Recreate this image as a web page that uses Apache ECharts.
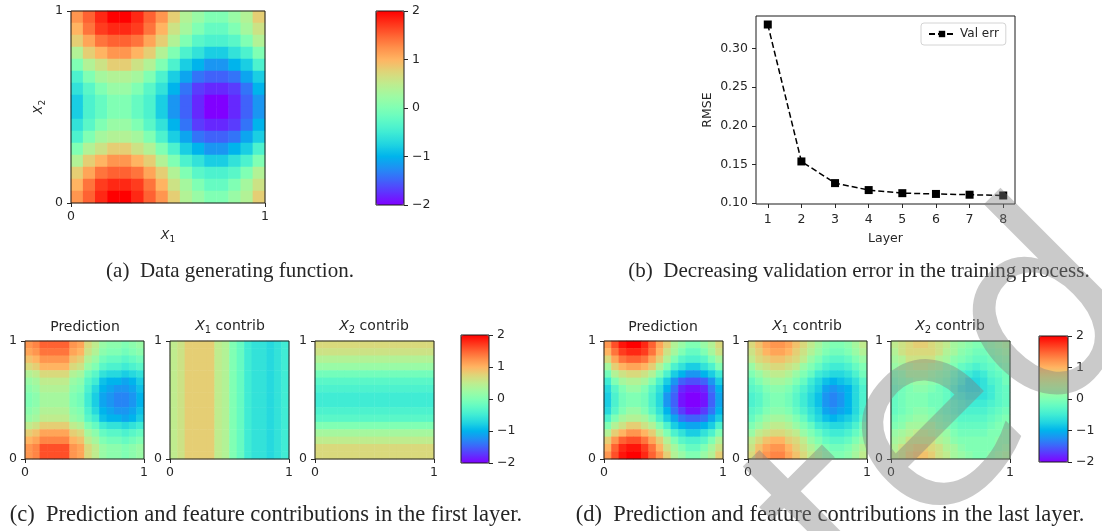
<!DOCTYPE html>
<html>
<head>
<meta charset="utf-8">
<script src="https://cdn.jsdelivr.net/npm/echarts@6/dist/echarts.min.js"></script>
<style>
  html, body { margin: 0; background: #fff; }
  #main { width: 1102px; height: 531px; }
</style>
</head>
<body>
<div id="main"></div>
<script>
// ---- data ----
const layers = [1, 2, 3, 4, 5, 6, 7, 8];
const valErr = [0.331, 0.154, 0.126, 0.117, 0.113, 0.112, 0.111, 0.110];
const rmseTicks = [0.10, 0.15, 0.20, 0.25, 0.30];
const colorbarTicks = [-2, -1, 0, 1, 2];

// heatmaps: 16 x 16 cells, rows listed top (X2 = 1) to bottom (X2 = 0), columns X1 = 0 .. 1
const dataFunction = [
  [1.2, 1.5, 1.8, 2.0, 2.0, 1.8, 1.5, 1.2, 0.8, 0.4, 0.2, 0.0, 0.0, 0.2, 0.4, 0.8],
  [1.0, 1.4, 1.7, 1.8, 1.8, 1.7, 1.4, 1.0, 0.6, 0.3, 0.0, -0.2, -0.2, 0.0, 0.3, 0.6],
  [0.8, 1.1, 1.4, 1.5, 1.5, 1.4, 1.1, 0.8, 0.4, 0.0, -0.3, -0.4, -0.4, -0.3, 0.0, 0.4],
  [0.4, 0.8, 1.0, 1.2, 1.2, 1.0, 0.8, 0.4, 0.0, -0.4, -0.6, -0.8, -0.8, -0.6, -0.4, 0.0],
  [0.0, 0.4, 0.6, 0.8, 0.8, 0.6, 0.4, 0.0, -0.4, -0.8, -1.0, -1.2, -1.2, -1.0, -0.8, -0.4],
  [-0.4, 0.0, 0.3, 0.4, 0.4, 0.3, 0.0, -0.4, -0.8, -1.1, -1.4, -1.5, -1.5, -1.4, -1.1, -0.8],
  [-0.6, -0.3, 0.0, 0.2, 0.2, 0.0, -0.3, -0.6, -1.0, -1.4, -1.7, -1.8, -1.8, -1.7, -1.4, -1.0],
  [-0.8, -0.4, -0.2, 0.0, 0.0, -0.2, -0.4, -0.8, -1.2, -1.5, -1.8, -2.0, -2.0, -1.8, -1.5, -1.2],
  [-0.8, -0.4, -0.2, 0.0, 0.0, -0.2, -0.4, -0.8, -1.2, -1.5, -1.8, -2.0, -2.0, -1.8, -1.5, -1.2],
  [-0.6, -0.3, 0.0, 0.2, 0.2, 0.0, -0.3, -0.6, -1.0, -1.4, -1.7, -1.8, -1.8, -1.7, -1.4, -1.0],
  [-0.4, 0.0, 0.3, 0.4, 0.4, 0.3, 0.0, -0.4, -0.8, -1.1, -1.4, -1.5, -1.5, -1.4, -1.1, -0.8],
  [0.0, 0.4, 0.6, 0.8, 0.8, 0.6, 0.4, 0.0, -0.4, -0.8, -1.0, -1.2, -1.2, -1.0, -0.8, -0.4],
  [0.4, 0.8, 1.0, 1.2, 1.2, 1.0, 0.8, 0.4, 0.0, -0.4, -0.6, -0.8, -0.8, -0.6, -0.4, 0.0],
  [0.8, 1.1, 1.4, 1.5, 1.5, 1.4, 1.1, 0.8, 0.4, 0.0, -0.3, -0.4, -0.4, -0.3, 0.0, 0.4],
  [1.0, 1.4, 1.7, 1.8, 1.8, 1.7, 1.4, 1.0, 0.6, 0.3, 0.0, -0.2, -0.2, 0.0, 0.3, 0.6],
  [1.2, 1.5, 1.8, 2.0, 2.0, 1.8, 1.5, 1.2, 0.8, 0.4, 0.2, 0.0, 0.0, 0.2, 0.4, 0.8]
];

const firstPrediction = [
  [1.2, 1.3, 1.5, 1.5, 1.5, 1.5, 1.2, 1.1, 0.7, 0.5, 0.2, 0.1, 0.1, 0.0, 0.1, 0.2],
  [1.1, 1.2, 1.4, 1.4, 1.4, 1.4, 1.1, 1.0, 0.6, 0.4, 0.1, 0.0, 0.0, -0.1, 0.0, 0.1],
  [0.9, 1.0, 1.2, 1.2, 1.2, 1.2, 0.9, 0.8, 0.4, 0.2, -0.1, -0.2, -0.2, -0.3, -0.2, -0.1],
  [0.7, 0.8, 1.0, 1.0, 1.0, 1.0, 0.7, 0.6, 0.2, 0.0, -0.3, -0.4, -0.4, -0.5, -0.4, -0.3],
  [0.4, 0.5, 0.7, 0.7, 0.7, 0.7, 0.4, 0.3, -0.1, -0.3, -0.6, -0.7, -0.7, -0.8, -0.7, -0.6],
  [0.2, 0.3, 0.5, 0.5, 0.5, 0.5, 0.2, 0.1, -0.3, -0.5, -0.9, -1.0, -1.0, -1.1, -1.0, -0.8],
  [0.1, 0.2, 0.4, 0.4, 0.4, 0.4, 0.1, 0.0, -0.4, -0.7, -1.0, -1.1, -1.2, -1.2, -1.1, -0.9],
  [0.0, 0.1, 0.3, 0.3, 0.3, 0.3, 0.0, -0.1, -0.5, -0.8, -1.1, -1.2, -1.3, -1.3, -1.2, -1.0],
  [0.0, 0.1, 0.3, 0.3, 0.3, 0.3, 0.0, -0.1, -0.5, -0.8, -1.1, -1.2, -1.3, -1.3, -1.2, -1.0],
  [0.1, 0.2, 0.4, 0.4, 0.4, 0.4, 0.1, 0.0, -0.4, -0.7, -1.0, -1.1, -1.2, -1.2, -1.1, -0.9],
  [0.2, 0.3, 0.5, 0.5, 0.5, 0.5, 0.2, 0.1, -0.3, -0.5, -0.9, -1.0, -1.0, -1.1, -1.0, -0.8],
  [0.5, 0.6, 0.8, 0.8, 0.8, 0.8, 0.5, 0.4, 0.0, -0.2, -0.5, -0.6, -0.6, -0.7, -0.6, -0.5],
  [0.8, 0.9, 1.1, 1.1, 1.1, 1.1, 0.8, 0.7, 0.3, 0.1, -0.2, -0.3, -0.3, -0.4, -0.3, -0.2],
  [1.0, 1.1, 1.3, 1.3, 1.3, 1.3, 1.0, 0.9, 0.5, 0.3, 0.0, -0.1, -0.1, -0.2, -0.1, 0.0],
  [1.2, 1.3, 1.6, 1.6, 1.6, 1.6, 1.2, 1.1, 0.7, 0.5, 0.2, 0.1, 0.1, 0.0, 0.1, 0.2],
  [1.2, 1.3, 1.6, 1.6, 1.6, 1.6, 1.2, 1.1, 0.7, 0.5, 0.2, 0.1, 0.1, 0.0, 0.1, 0.2]
];
// first layer contributions are flat along the other feature
const firstX1Contrib = [0.5, 0.6, 0.8, 0.8, 0.8, 0.8, 0.5, 0.4, 0.0, -0.2, -0.5, -0.6, -0.6, -0.7, -0.6, -0.5]; // X1 = 0 .. 1
const firstX2Contrib = [0.7, 0.6, 0.4, 0.2, -0.1, -0.3, -0.4, -0.5, -0.5, -0.4, -0.3, 0.0, 0.3, 0.5, 0.7, 0.7]; // X2 = 1 .. 0

const lastPrediction = [
  [1.2, 1.6, 1.9, 2.0, 2.0, 1.8, 1.5, 1.1, 0.8, 0.4, 0.2, 0.0, 0.0, 0.2, 0.4, 0.7],
  [1.0, 1.4, 1.7, 1.8, 1.8, 1.7, 1.4, 1.0, 0.6, 0.3, 0.0, -0.2, -0.2, 0.0, 0.3, 0.6],
  [0.7, 1.1, 1.4, 1.5, 1.5, 1.4, 1.1, 0.8, 0.4, 0.0, -0.3, -0.4, -0.4, -0.3, 0.0, 0.3],
  [0.3, 0.8, 1.0, 1.1, 1.1, 1.0, 0.8, 0.4, 0.0, -0.4, -0.6, -0.8, -0.8, -0.6, -0.4, 0.0],
  [-0.1, 0.4, 0.6, 0.7, 0.7, 0.6, 0.4, 0.0, -0.4, -0.8, -1.0, -1.2, -1.2, -1.0, -0.8, -0.5],
  [-0.5, 0.0, 0.3, 0.4, 0.4, 0.3, 0.0, -0.4, -0.8, -1.2, -1.5, -1.6, -1.6, -1.5, -1.2, -0.8],
  [-0.7, -0.3, 0.0, 0.2, 0.2, 0.0, -0.3, -0.6, -1.0, -1.4, -1.8, -1.9, -1.9, -1.8, -1.4, -1.0],
  [-0.8, -0.4, -0.1, 0.0, 0.0, -0.1, -0.4, -0.7, -1.2, -1.5, -1.9, -2.0, -2.0, -1.9, -1.5, -1.1],
  [-0.8, -0.4, -0.1, 0.0, 0.0, -0.1, -0.4, -0.7, -1.2, -1.5, -1.9, -2.0, -2.0, -1.9, -1.5, -1.1],
  [-0.7, -0.3, 0.0, 0.2, 0.2, 0.0, -0.3, -0.6, -1.0, -1.4, -1.7, -1.9, -1.9, -1.7, -1.4, -1.0],
  [-0.4, 0.0, 0.3, 0.4, 0.4, 0.3, 0.0, -0.4, -0.8, -1.1, -1.4, -1.5, -1.5, -1.4, -1.1, -0.8],
  [0.0, 0.4, 0.6, 0.8, 0.8, 0.6, 0.4, 0.0, -0.4, -0.8, -1.0, -1.1, -1.1, -1.0, -0.8, -0.4],
  [0.4, 0.8, 1.0, 1.2, 1.2, 1.0, 0.8, 0.4, 0.0, -0.4, -0.6, -0.8, -0.8, -0.6, -0.4, 0.0],
  [0.8, 1.2, 1.5, 1.6, 1.6, 1.4, 1.1, 0.8, 0.4, 0.0, -0.3, -0.4, -0.4, -0.3, 0.0, 0.4],
  [1.0, 1.5, 1.8, 1.9, 1.9, 1.7, 1.4, 1.0, 0.6, 0.3, 0.0, -0.2, -0.2, 0.0, 0.3, 0.6],
  [1.2, 1.6, 1.9, 2.0, 2.0, 1.8, 1.5, 1.2, 0.8, 0.4, 0.2, 0.0, 0.0, 0.2, 0.4, 0.8]
];

const lastX1Contrib = [
  [0.7, 0.9, 1.1, 1.2, 1.2, 1.1, 0.9, 0.7, 0.5, 0.3, 0.1, 0.0, 0.0, 0.1, 0.3, 0.5],
  [0.6, 0.8, 1.0, 1.1, 1.1, 1.0, 0.8, 0.6, 0.4, 0.2, 0.0, -0.1, -0.1, 0.0, 0.2, 0.4],
  [0.5, 0.7, 0.8, 0.9, 0.9, 0.8, 0.7, 0.5, 0.2, 0.0, -0.2, -0.3, -0.3, -0.2, 0.0, 0.2],
  [0.2, 0.5, 0.6, 0.7, 0.7, 0.6, 0.5, 0.2, 0.0, -0.2, -0.4, -0.5, -0.5, -0.4, -0.2, 0.0],
  [0.0, 0.2, 0.4, 0.5, 0.5, 0.4, 0.2, 0.0, -0.2, -0.5, -0.6, -0.7, -0.7, -0.6, -0.4, -0.1],
  [-0.2, 0.0, 0.2, 0.3, 0.3, 0.2, 0.0, -0.2, -0.5, -0.7, -0.9, -1.0, -0.9, -0.8, -0.6, -0.3],
  [-0.3, -0.2, 0.0, 0.1, 0.1, 0.0, -0.2, -0.4, -0.6, -0.8, -1.1, -1.2, -1.1, -1.0, -0.7, -0.4],
  [-0.4, -0.3, -0.1, 0.0, 0.0, -0.1, -0.3, -0.5, -0.7, -0.9, -1.2, -1.3, -1.2, -1.0, -0.7, -0.4],
  [-0.4, -0.3, -0.1, 0.0, 0.0, -0.1, -0.3, -0.5, -0.7, -0.9, -1.2, -1.3, -1.2, -1.0, -0.7, -0.4],
  [-0.3, -0.2, 0.0, 0.1, 0.1, 0.0, -0.2, -0.4, -0.6, -0.8, -1.1, -1.2, -1.1, -1.0, -0.7, -0.4],
  [-0.2, 0.0, 0.2, 0.3, 0.3, 0.2, 0.0, -0.2, -0.5, -0.7, -0.9, -1.0, -0.9, -0.8, -0.6, -0.3],
  [0.0, 0.2, 0.4, 0.5, 0.5, 0.4, 0.2, 0.0, -0.2, -0.5, -0.6, -0.7, -0.7, -0.6, -0.4, -0.1],
  [0.2, 0.5, 0.6, 0.7, 0.7, 0.6, 0.5, 0.2, 0.0, -0.2, -0.4, -0.5, -0.5, -0.4, -0.2, 0.0],
  [0.5, 0.7, 0.9, 1.0, 1.0, 0.8, 0.7, 0.5, 0.2, 0.0, -0.2, -0.3, -0.3, -0.2, 0.0, 0.2],
  [0.6, 0.9, 1.1, 1.2, 1.2, 1.0, 0.8, 0.6, 0.4, 0.2, 0.0, -0.1, -0.1, 0.0, 0.2, 0.4],
  [0.7, 1.0, 1.2, 1.3, 1.3, 1.1, 0.9, 0.7, 0.5, 0.3, 0.1, 0.0, 0.0, 0.1, 0.3, 0.5]
];

const lastX2Contrib = [
  [0.5, 0.6, 0.7, 0.8, 0.8, 0.7, 0.6, 0.5, 0.3, 0.2, 0.1, 0.0, 0.0, 0.1, 0.2, 0.3],
  [0.4, 0.6, 0.7, 0.7, 0.7, 0.7, 0.6, 0.4, 0.3, 0.1, 0.0, -0.1, -0.1, 0.0, 0.1, 0.2],
  [0.3, 0.4, 0.6, 0.6, 0.6, 0.6, 0.4, 0.3, 0.1, 0.0, -0.1, -0.2, -0.2, -0.1, 0.0, 0.1],
  [0.2, 0.3, 0.4, 0.5, 0.5, 0.4, 0.3, 0.1, 0.0, -0.2, -0.3, -0.4, -0.3, -0.2, -0.1, 0.0],
  [0.0, 0.1, 0.3, 0.3, 0.3, 0.2, 0.1, 0.0, -0.2, -0.4, -0.5, -0.6, -0.5, -0.3, -0.2, -0.1],
  [-0.1, 0.0, 0.1, 0.2, 0.2, 0.1, 0.0, -0.1, -0.3, -0.5, -0.7, -0.7, -0.6, -0.4, -0.3, -0.1],
  [-0.2, -0.1, 0.0, 0.1, 0.1, 0.0, -0.1, -0.2, -0.4, -0.6, -0.7, -0.7, -0.6, -0.5, -0.3, -0.2],
  [-0.2, -0.1, 0.0, 0.0, 0.0, -0.1, -0.1, -0.2, -0.4, -0.5, -0.6, -0.6, -0.6, -0.5, -0.3, -0.2],
  [-0.2, -0.1, 0.0, 0.0, 0.0, -0.1, -0.1, -0.2, -0.3, -0.4, -0.5, -0.5, -0.5, -0.4, -0.3, -0.2],
  [-0.2, -0.1, 0.0, 0.1, 0.1, 0.0, -0.1, -0.2, -0.3, -0.4, -0.4, -0.4, -0.4, -0.3, -0.2, -0.1],
  [-0.1, 0.0, 0.1, 0.2, 0.2, 0.1, 0.0, -0.1, -0.2, -0.3, -0.3, -0.3, -0.3, -0.2, -0.1, 0.0],
  [0.0, 0.1, 0.3, 0.3, 0.3, 0.3, 0.1, 0.0, -0.1, -0.2, -0.2, -0.2, -0.2, -0.1, 0.0, 0.0],
  [0.2, 0.3, 0.4, 0.5, 0.5, 0.4, 0.3, 0.2, 0.0, -0.1, -0.1, -0.1, -0.1, 0.0, 0.0, 0.1],
  [0.3, 0.4, 0.6, 0.6, 0.6, 0.6, 0.4, 0.3, 0.1, 0.0, 0.0, 0.0, 0.0, 0.0, 0.1, 0.1],
  [0.4, 0.6, 0.7, 0.8, 0.8, 0.7, 0.6, 0.4, 0.3, 0.1, 0.0, 0.0, 0.0, 0.0, 0.1, 0.2],
  [0.5, 0.6, 0.8, 0.9, 0.9, 0.8, 0.6, 0.5, 0.3, 0.2, 0.1, 0.0, 0.0, 0.1, 0.2, 0.3]
];

// ---- styling ----
const SANS = 'DejaVu Sans';
const SERIF = 'Liberation Serif';
const INK = '#262626';
const rainbow = ['#8000ff', '#6032fe', '#4062fa', '#208ef4', '#00b4ec', '#20d4e1', '#40ecd4', '#60fac5',
  '#80ffb4', '#9ffaa2', '#bfec8e', '#dfd478', '#ffb462', '#ff8e4a', '#ff6232', '#ff3219', '#ff0000'];

const N = 16;
const cellIds = Array.from({ length: N }, (_, k) => k);

function gridCells(rows) {
  const out = [];
  rows.forEach((row, r) => row.forEach((v, c) => out.push([c, N - 1 - r, v])));
  return out;
}
const firstX1Rows = cellIds.map(() => firstX1Contrib);
const firstX2Rows = firstX2Contrib.map(v => cellIds.map(() => v));

const mathRich = {
  i: { fontFamily: SANS, fontStyle: 'italic', fontSize: 12.5, color: INK },
  s: { fontFamily: SANS, fontSize: 9, color: INK, padding: [7, 0, 0, 0] },
  n: { fontFamily: SANS, fontSize: 12.5, color: INK }
};
const mathRichFill = {
  i: { fontFamily: SANS, fontStyle: 'italic', fontSize: 14, fill: INK },
  s: { fontFamily: SANS, fontSize: 10, fill: INK, padding: [8, 0, 0, 0] },
  n: { fontFamily: SANS, fontSize: 14, fill: INK }
};

const grid = [], xAxis = [], yAxis = [], series = [], visualMap = [], graphic = [];
const heatSeries = [];
const frame = { show: true, z: 3, borderColor: '#1a1a1a', borderWidth: 1, backgroundColor: 'transparent' };
const tickLabel = { fontFamily: SANS, fontSize: 12.5, color: INK };
const tick = { show: true, length: 4, lineStyle: { color: INK, width: 1 } };
const noLine = { show: false, onZero: false };

function addGrid(box) {
  grid.push(Object.assign({ left: box[0], top: box[1], width: box[2], height: box[3] }, frame));
  return grid.length - 1;
}

function unitAxis(gi, pos, margin, extra) {
  return Object.assign({
    type: 'value', gridIndex: gi, position: pos, min: 0, max: 1, interval: 1, z: 4,
    axisLine: noLine, axisTick: tick,
    axisLabel: Object.assign({ margin }, tickLabel),
    splitLine: { show: false }
  }, extra || {});
}

function heatPanel(box, rows, xExtra, yExtra) {
  const gi = addGrid(box);
  const xi = xAxis.length, yi = yAxis.length;
  xAxis.push({ type: 'category', gridIndex: gi, data: cellIds, show: false, axisLine: noLine });
  yAxis.push({ type: 'category', gridIndex: gi, data: cellIds, show: false, axisLine: noLine });
  xAxis.push(unitAxis(gi, 'bottom', 7, xExtra));
  yAxis.push(unitAxis(gi, 'left', 8, yExtra));
  series.push({
    type: 'heatmap', xAxisIndex: xi, yAxisIndex: yi, data: gridCells(rows),
    silent: true, emphasis: { disabled: true }, progressive: 0
  });
  heatSeries.push(series.length - 1);
}

function colorbar(box) {
  const gi = addGrid(box);
  xAxis.push({ type: 'value', gridIndex: gi, show: false, min: 0, max: 1, axisLine: noLine });
  yAxis.push({
    type: 'value', gridIndex: gi, position: 'right', min: -2, max: 2, interval: 1, z: 4,
    axisLine: noLine, axisTick: tick,
    axisLabel: Object.assign({ margin: 8, formatter: v => String(v).replace('-', '\u2212') }, tickLabel),
    splitLine: { show: false }
  });
  visualMap.push({
    type: 'continuous', min: -2, max: 2, seriesIndex: heatSeries, inRange: { color: rainbow },
    calculable: false, hoverLink: false, left: box[0], top: box[1], itemWidth: box[2], itemHeight: box[3],
    padding: 0, z: 2
  });
}

function label(x, y, text, font, rich) {
  graphic.push({
    type: 'text', x, y, silent: true,
    style: { text, font, fill: INK, align: 'center', verticalAlign: 'middle', rich }
  });
}

// (a) data generating function
heatPanel([71, 11, 194, 192], dataFunction,
  { name: '{i|X}{s|1}', nameLocation: 'middle', nameGap: 25, nameTextStyle: { rich: mathRich } },
  { name: '{i|X}{s|2}', nameLocation: 'middle', nameGap: 24, nameTextStyle: { rich: mathRich } });

// (c) first layer
const cBoxes = [[25, 341, 119, 118], [170, 341, 119, 118], [315, 341, 119, 118]];
heatPanel(cBoxes[0], firstPrediction);
heatPanel(cBoxes[1], firstX1Rows);
heatPanel(cBoxes[2], firstX2Rows);

// (d) last layer
const dBoxes = [[604, 341, 119, 118], [748, 341, 119, 118], [891, 341, 119, 118]];
heatPanel(dBoxes[0], lastPrediction);
heatPanel(dBoxes[1], lastX1Contrib);
heatPanel(dBoxes[2], lastX2Contrib);

colorbar([376, 11, 28, 194]);
colorbar([461, 335, 28, 128]);
colorbar([1039, 336, 29, 126]);

// (b) validation error
const gb = addGrid([756, 16, 259, 188]);
const bx = xAxis.length, by = yAxis.length;
xAxis.push({
  type: 'value', gridIndex: gb, min: 0.65, max: 8.35, z: 4,
  name: 'Layer', nameLocation: 'middle', nameGap: 28,
  nameTextStyle: { fontFamily: SANS, fontSize: 12.5, color: INK },
  axisLine: noLine, axisTick: Object.assign({ customValues: layers }, tick),
  axisLabel: Object.assign({ customValues: layers, margin: 9 }, tickLabel),
  splitLine: { show: false }
});
yAxis.push({
  type: 'value', gridIndex: gb, min: 0.099, max: 0.342, z: 4,
  name: 'RMSE', nameLocation: 'middle', nameGap: 42,
  nameTextStyle: { fontFamily: SANS, fontSize: 12.5, color: INK },
  axisLine: noLine, axisTick: Object.assign({ customValues: rmseTicks }, tick),
  axisLabel: Object.assign({ customValues: rmseTicks, margin: 8, formatter: v => v.toFixed(2) }, tickLabel),
  splitLine: { show: false }
});
series.push({
  type: 'line', name: 'Val err', xAxisIndex: bx, yAxisIndex: by,
  data: layers.map((l, i) => [l, valErr[i]]),
  symbol: 'rect', symbolSize: 8, z: 5,
  lineStyle: { color: '#000', width: 1.5, type: [6, 3] },
  itemStyle: { color: '#000' }
});

// panel titles
const titleFont = '14px ' + SANS;
label(85, 327, 'Prediction', titleFont);
label(230, 326, '{i|X}{s|1}{n| contrib}', titleFont, mathRichFill);
label(374, 326, '{i|X}{s|2}{n| contrib}', titleFont, mathRichFill);
label(663, 327, 'Prediction', titleFont);
label(807, 326, '{i|X}{s|1}{n| contrib}', titleFont, mathRichFill);
label(950, 326, '{i|X}{s|2}{n| contrib}', titleFont, mathRichFill);

// captions
const capTop = '21px "' + SERIF + '"';
const capBottom = '22.5px "' + SERIF + '"';
label(230, 271, '(a)  Data generating function.', capTop);
label(859, 271, '(b)  Decreasing validation error in the training process.', capTop);
label(266, 515, '(c)  Prediction and feature contributions in the first layer.', capBottom);
label(830, 515, '(d)  Prediction and feature contributions in the last layer.', capBottom);

// watermark
graphic.push({
  type: 'text', x: 958, y: 414, rotation: 0.785, silent: true, z: 100,
  style: { text: 'ted', font: '260px ' + SANS, fill: 'rgba(128,128,128,0.42)', align: 'center', verticalAlign: 'middle' }
});

const chart = echarts.init(document.getElementById('main'), null, { renderer: 'canvas' });
chart.setOption({
  animation: false,
  backgroundColor: '#fff',
  legend: {
    data: ['Val err'], left: 921, top: 23, itemWidth: 26, itemHeight: 8, padding: [5, 7, 5, 7],
    borderColor: '#d4d4d4', borderWidth: 1, borderRadius: 3,
    textStyle: { fontFamily: SANS, fontSize: 12, color: INK }
  },
  grid, xAxis, yAxis, series, visualMap, graphic
});
</script>
</body>
</html>
